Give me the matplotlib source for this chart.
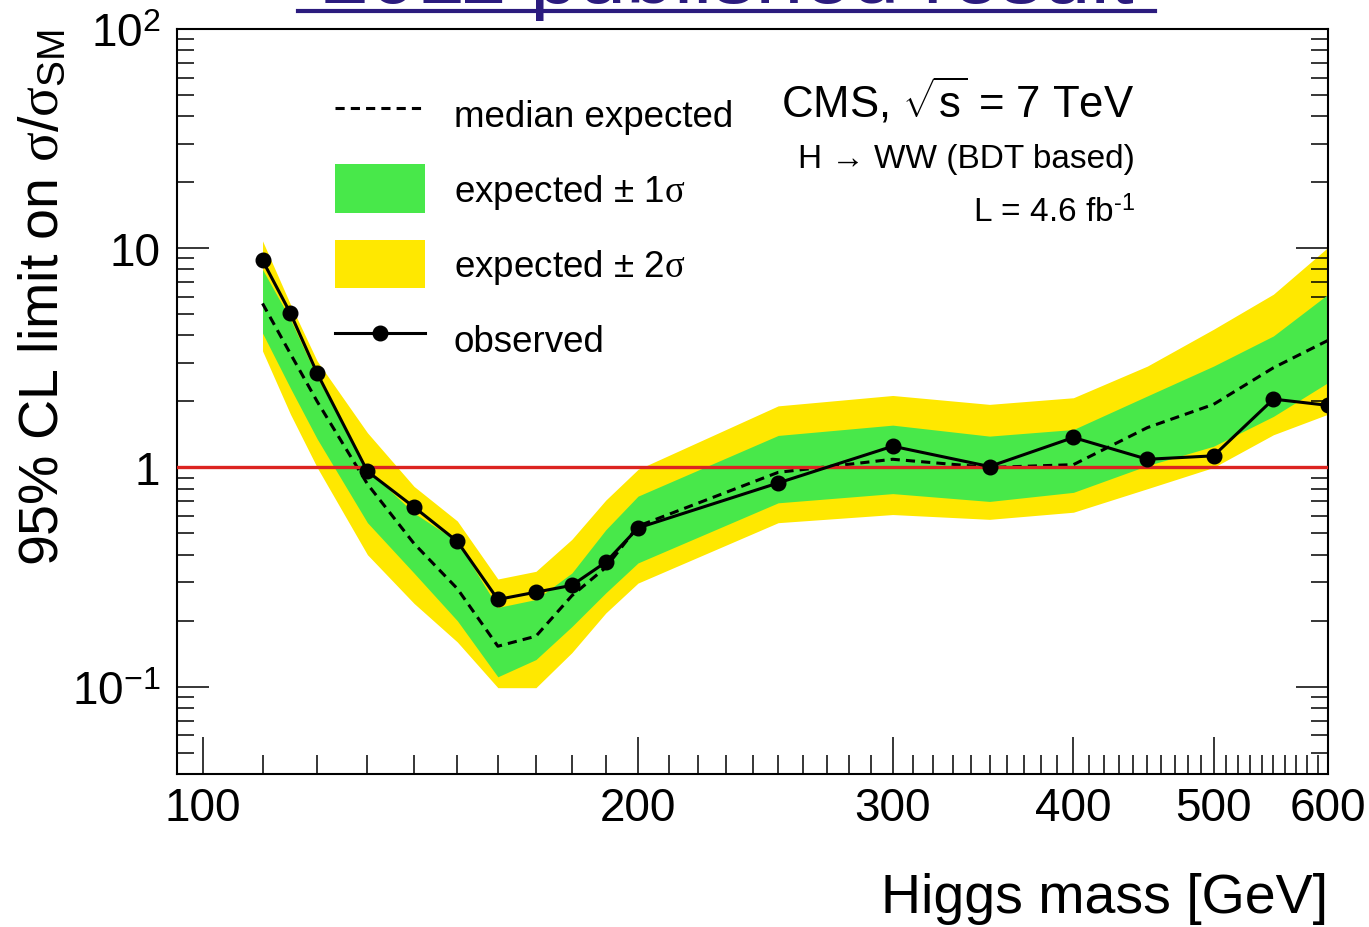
import matplotlib
matplotlib.use('Agg')
import matplotlib.pyplot as plt
from matplotlib.lines import Line2D
from matplotlib.patches import Patch
from matplotlib.ticker import FixedLocator, FixedFormatter, NullFormatter

plt.rcParams['font.family'] = ['Liberation Sans', 'DejaVu Sans']
plt.rcParams['mathtext.fontset'] = 'custom'
plt.rcParams['mathtext.rm'] = 'Liberation Sans'
plt.rcParams['mathtext.it'] = 'Liberation Serif'
plt.rcParams['mathtext.bf'] = 'Liberation Sans:bold'

# Higgs mass points [GeV]
mass = [110, 115, 120, 130, 140, 150, 160, 170, 180, 190, 200, 250, 300, 350, 400, 450, 500, 550, 600]
observed = [8.8, 5.05, 2.69, 0.96, 0.66, 0.46, 0.25, 0.27, 0.29, 0.37, 0.53, 0.85, 1.25, 1.01, 1.37, 1.09, 1.13, 2.05, 1.92]
expected = [5.6, 3.3, 2.0, 0.84, 0.45, 0.28, 0.153, 0.17, 0.26, 0.35, 0.54, 0.95, 1.09, 1.0, 1.03, 1.52, 1.94, 2.85, 3.8]
exp_m2 = [3.4, 1.75, 1.0, 0.40, 0.24, 0.16, 0.099, 0.099, 0.143, 0.217, 0.297, 0.56, 0.61, 0.58, 0.625, 0.80, 1.0, 1.41, 1.75]
exp_m1 = [4.1, 2.3, 1.35, 0.56, 0.33, 0.20, 0.111, 0.133, 0.188, 0.268, 0.367, 0.69, 0.76, 0.70, 0.77, 1.02, 1.25, 1.71, 2.44]
exp_p1 = [8.0, 4.74, 2.57, 0.98, 0.62, 0.46, 0.23, 0.25, 0.33, 0.52, 0.74, 1.40, 1.56, 1.39, 1.49, 2.12, 2.90, 3.98, 6.17]
exp_p2 = [10.8, 5.55, 3.06, 1.44, 0.82, 0.57, 0.31, 0.336, 0.47, 0.71, 0.98, 1.91, 2.13, 1.94, 2.08, 2.90, 4.27, 6.17, 10.1]

xticks = [100, 200, 300, 400, 500, 600]
xticklabels = ['100', '200', '300', '400', '500', '600']
yticks = [0.1, 1, 10, 100]
yticklabels = ['$10^{-1}$', '1', '10', '$10^{2}$']

green = '#48e84a'
yellow = '#ffe800'

fig = plt.figure(figsize=(13.69, 9.28), dpi=100)
ax = fig.add_axes([0.1293, 0.1649, 0.8408, 0.8028])

ax.fill_between(mass, exp_m2, exp_p2, color=yellow, lw=0, zorder=1)
ax.fill_between(mass, exp_m1, exp_p1, color=green, lw=0, zorder=2)
ax.plot(mass, expected, color='black', lw=2.2, dashes=(3, 2), zorder=3)
ax.axhline(1, color='#dc2420', lw=2.4, zorder=4)
ax.plot(mass, observed, color='black', lw=2.2, marker='o', ms=10.5, zorder=5)

ax.set_xscale('log')
ax.set_yscale('log')
ax.set_xlim(96, 600)
ax.set_ylim(0.04, 100)

ax.xaxis.set_major_locator(FixedLocator(xticks))
ax.xaxis.set_major_formatter(FixedFormatter(xticklabels))
minor_x = [m for m in range(110, 600, 10) if m % 100 != 0]
ax.xaxis.set_minor_locator(FixedLocator(minor_x))
ax.xaxis.set_minor_formatter(NullFormatter())

ax.yaxis.set_major_locator(FixedLocator(yticks))
ax.yaxis.set_major_formatter(FixedFormatter(yticklabels))
minor_y = [k * d for d in [0.01, 0.1, 1, 10] for k in range(2, 10)]
ax.yaxis.set_minor_locator(FixedLocator(minor_y))
ax.yaxis.set_minor_formatter(NullFormatter())

ax.tick_params(axis='x', which='major', direction='in', length=27, width=1.1, top=False,
               labelsize=33, pad=9)
ax.tick_params(axis='x', which='minor', direction='in', length=14, width=1.1, top=False)
ax.tick_params(axis='y', which='major', direction='in', length=23, width=1.1, right=True,
               labelsize=33, pad=12)
ax.tick_params(axis='y', which='minor', direction='in', length=12, width=1.1, right=True)
for s in ax.spines.values():
    s.set_linewidth(1.5)

ax.set_xlabel('Higgs mass [GeV]', fontsize=40, loc='right', labelpad=30)
ax.set_ylabel(r'95% CL limit on $\sigma/\sigma_{\mathrm{SM}}$', fontsize=40, loc='top', labelpad=1)

handles = [
    Line2D([], [], color='black', lw=2.2, dashes=(3, 2)),
    Patch(facecolor=green, edgecolor='none'),
    Patch(facecolor=yellow, edgecolor='none'),
    Line2D([], [], color='black', lw=2.2, marker='o', ms=10.5),
]
labels = ['median expected', r'expected ± 1$\sigma$', r'expected ± 2$\sigma$', 'observed']
ax.legend(handles, labels, loc='upper left', bbox_to_anchor=(0.137, 0.919), frameon=False,
          fontsize=26.5, handlelength=2.46, handleheight=1.67, labelspacing=0.71,
          handletextpad=0.77, borderpad=0, borderaxespad=0)

ax.text(0.832, 0.882, r'CMS, $\sqrt{\mathrm{s}}$ = 7 TeV', transform=ax.transAxes,
        ha='right', va='baseline', fontsize=31.5)
ax.text(0.832, 0.815, 'H → WW (BDT based)', transform=ax.transAxes,
        ha='right', va='baseline', fontsize=24)
ax.text(0.832, 0.742, r'L = 4.6 fb$^{\mathrm{\text{-}1}}$', transform=ax.transAxes,
        ha='right', va='baseline', fontsize=24)

# title cut off at the top edge, only the underline shows
fig.text(0.531, 1 - 3 / 928, '2011 published result', ha='center', va='baseline',
         fontsize=62, color='#2b1b7e')
fig.add_artist(Line2D([298 / 1369, 1155 / 1369], [1 - 12 / 928, 1 - 12 / 928],
                      color='#2b1b7e', lw=3, transform=fig.transFigure))

fig.savefig('out.png', dpi=100)
